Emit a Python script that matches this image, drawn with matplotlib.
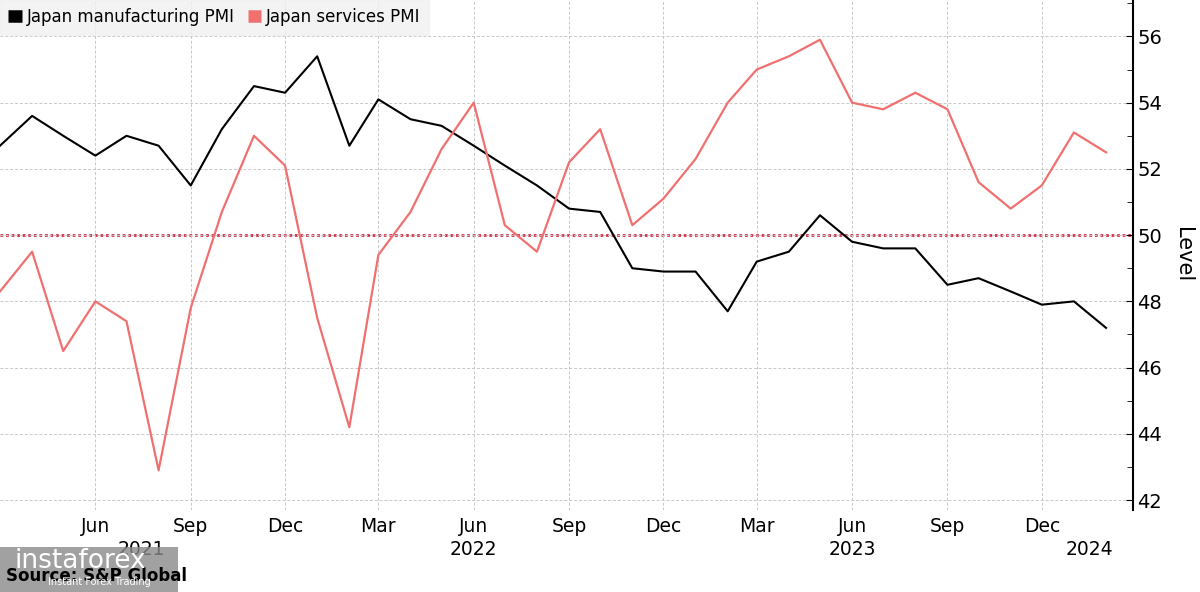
import pandas as pd
import matplotlib.pyplot as plt
import matplotlib.dates as mdates
from matplotlib.ticker import MultipleLocator

# monthly readings, Mar 2021 .. Feb 2024
months = pd.date_range("2021-03-01", "2024-02-01", freq="MS")
manufacturing = [52.7, 53.6, 53.0, 52.4, 53.0, 52.7, 51.5, 53.2, 54.5, 54.3, 55.4, 52.7,
                 54.1, 53.5, 53.3, 52.7, 52.1, 51.5, 50.8, 50.7, 49.0, 48.9, 48.9, 47.7,
                 49.2, 49.5, 50.6, 49.8, 49.6, 49.6, 48.5, 48.7, 48.3, 47.9, 48.0, 47.2]
services = [48.3, 49.5, 46.5, 48.0, 47.4, 42.9, 47.8, 50.7, 53.0, 52.1, 47.5, 44.2,
            49.4, 50.7, 52.6, 54.0, 50.3, 49.5, 52.2, 53.2, 50.3, 51.1, 52.3, 54.0,
            55.0, 55.4, 55.9, 54.0, 53.8, 54.3, 53.8, 51.6, 50.8, 51.5, 53.1, 52.5]
year_labels = ["2021", "2022", "2023", "2024"]
year_pos = pd.to_datetime(["2021-07-15", "2022-06-01", "2023-06-01", "2024-01-16"])

fig = plt.figure(figsize=(12, 5.92), dpi=100)
ax = fig.add_axes([0.0, (592 - 510) / 592, 1133 / 1200, 510 / 592])

ax.plot(months, manufacturing, color="black", lw=1.5, label="Japan manufacturing PMI")
ax.plot(months, services, color="#f07070", lw=1.6, label="Japan services PMI")
ax.axhline(50, color="#d0304a", lw=2, ls=(0, (1, 1)), zorder=1)

ax.set_xlim(pd.Timestamp("2021-03-01"), pd.Timestamp("2024-02-27"))
ax.set_ylim(41.7, 57.1)

ax.yaxis.tick_right()
ax.yaxis.set_label_position("right")
ax.yaxis.set_major_locator(MultipleLocator(2))
ax.yaxis.set_minor_locator(MultipleLocator(1))
ax.set_ylabel("Level", fontsize=15, rotation=270, labelpad=22)
ax.tick_params(axis="y", which="major", direction="in", length=5, labelsize=14, pad=3)
ax.tick_params(axis="y", which="minor", direction="in", length=4)

# quarterly ticks; the first month sits on the left edge and has no label
quarter_ticks = [m for m in months if m.month in (3, 6, 9, 12)][1:]
ax.set_xticks(quarter_ticks)
ax.xaxis.set_major_formatter(mdates.DateFormatter("%b"))
ax.tick_params(axis="x", length=0, labelsize=13.5, pad=5)
for lbl, pos in zip(year_labels, year_pos):
    ax.text(pos, -0.058, lbl, transform=ax.get_xaxis_transform(), ha="center", va="top",
            fontsize=13.5)

ax.grid(True, color="#c8c8c8", ls=(0, (3, 2)), lw=0.7)
for s in ["top", "left", "bottom"]:
    ax.spines[s].set_visible(False)
ax.spines["right"].set_linewidth(1.5)

leg = ax.legend(loc="upper left", bbox_to_anchor=(0, 1.0), ncol=2, fontsize=12,
                frameon=True, fancybox=False, handlelength=0.8, handleheight=0.8,
                handletextpad=0.3, columnspacing=0.8, borderaxespad=0.0, borderpad=0.5)
leg.get_frame().set_facecolor("#f0f0f0")
leg.get_frame().set_edgecolor("#f0f0f0")
for h in leg.legend_handles:
    h.set_linewidth(9)
    h.set_solid_capstyle("butt")

# source line and the watermark box lying over it
fig.text(0.005, 0.012, "Source: S&P Global", fontsize=12, fontweight="bold", va="bottom")
fig.patches.append(plt.Rectangle((0, 0.0), 178 / 1200, 45 / 592, transform=fig.transFigure,
                                 facecolor="#8a8a8a", alpha=0.8, edgecolor="none"))
fig.text(0.012, 0.03, "instaforex", fontsize=19, color="white", va="bottom")
fig.text(0.04, 0.008, "Instant Forex Trading", fontsize=7, color="white", va="bottom")

fig.savefig("out.png", dpi=100)
